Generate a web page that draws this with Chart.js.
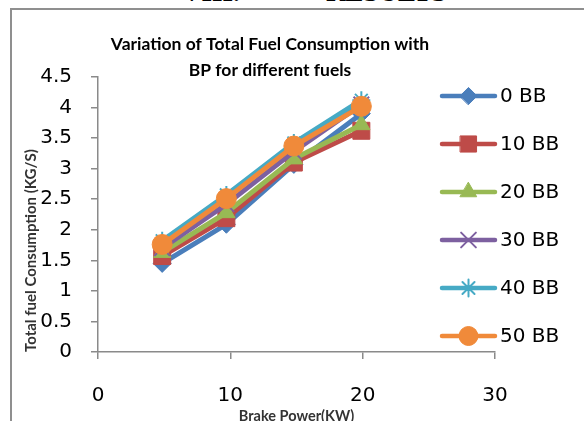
<!DOCTYPE html>
<html>
<head>
<meta charset="utf-8">
<script src="https://cdn.jsdelivr.net/npm/chart.js@4/dist/chart.umd.min.js"></script>
<style>
  html, body { margin: 0; padding: 0; background: #fff; overflow: hidden; }
  #wrap { position: relative; width: 584px; height: 421px; }
  #frame { position: absolute; left: 10px; top: 8px; width: 700px; height: 500px;
           border-left: 2px solid #8f8f8f; border-top: 2px solid #8f8f8f; box-sizing: border-box; }
  .hdr { position: absolute; top: -20.6px; font-family: 'Liberation Serif', serif; font-weight: bold;
         font-size: 27px; line-height: 27px; color: #000; white-space: nowrap; }
  canvas { position: absolute; left: 0; top: 0; }
</style>
</head>
<body>
<div id="wrap">
  <div class="hdr" style="left:182px">VIII.</div>
  <div class="hdr" style="left:326px">RESULTS</div>
  <div id="frame"></div>
  <canvas id="c" width="584" height="421"></canvas>
</div>
<script>
// ---- data ----
const brakePower = [4.85, 9.7, 14.8, 19.9];
const seriesNames = ['0 BB', '10 BB', '20 BB', '30 BB', '40 BB', '50 BB'];
const bb0  = [1.45, 2.09, 3.07, 3.90];
const bb10 = [1.57, 2.19, 3.10, 3.62];
const bb20 = [1.63, 2.28, 3.16, 3.72];
const bb30 = [1.70, 2.42, 3.28, 4.05];
const bb40 = [1.82, 2.57, 3.42, 4.12];
const bb50 = [1.76, 2.51, 3.37, 4.02];
const yTickLabels = ['0', '0.5', '1', '1.5', '2', '2.5', '3', '3.5', '4', '4.5'];
const xTickLabels = ['0', '10', '20', '30'];
const titleLines = ['Variation of Total Fuel Consumption with', 'BP for different fuels'];
const yTitle = 'Total fuel Consumption (KG/S)';
const xTitle = 'Brake Power(KW)';

// ---- styles ----
const seriesValues = [bb0, bb10, bb20, bb30, bb40, bb50];
const colors = ['#4A7EBB', '#BE4B48', '#98B954', '#7D60A0', '#46AAC5', '#F08A3A'];
const styles = ['rectRot', 'rect', 'triangle', 'crossRot', 'star', 'circle'];
const radii = [9, 12, 10, 11, 9, 10];

Chart.defaults.font.family = "'DejaVu Sans'";
Chart.defaults.color = '#000';

const datasets = seriesValues.map((vals, i) => ({
  label: seriesNames[i],
  data: vals.map((v, j) => ({ x: brakePower[j], y: v })),
  borderColor: colors[i],
  backgroundColor: colors[i],
  borderWidth: 5,
  pointStyle: styles[i],
  pointRadius: radii[i],
  pointHoverRadius: radii[i],
  pointBackgroundColor: colors[i],
  pointBorderColor: colors[i],
  pointBorderWidth: (styles[i] === 'crossRot' || styles[i] === 'star') ? 2 : 1,
  tension: 0,
  order: 5 - i
}));

function drawMarker(ctx, style, r, x, y, color, bw) {
  ctx.save();
  ctx.fillStyle = color; ctx.strokeStyle = color; ctx.lineWidth = bw;
  if (Chart.helpers && Chart.helpers.drawPoint) {
    Chart.helpers.drawPoint(ctx, { pointStyle: style, radius: r, borderWidth: bw, rotation: 0 }, x, y);
  } else {
    ctx.beginPath(); ctx.arc(x, y, r, 0, Math.PI * 2); ctx.fill();
  }
  ctx.restore();
}

const overlay = {
  id: 'overlay',
  afterDraw(chart) {
    const ctx = chart.ctx;
    ctx.save();
    // title
    ctx.fillStyle = '#000';
    ctx.font = "bold 17.5px Lato";
    ctx.textAlign = 'center';
    ctx.textBaseline = 'middle';
    ctx.fillText(titleLines[0], 270, 44);
    ctx.fillText(titleLines[1], 270, 70);
    // legend
    ctx.font = "20px 'DejaVu Sans'";
    ctx.textAlign = 'left';
    seriesNames.forEach((name, i) => {
      const y = 96 + i * 48;
      ctx.strokeStyle = colors[i];
      ctx.lineWidth = 4.5;
      ctx.lineCap = 'round';
      ctx.beginPath(); ctx.moveTo(442, y); ctx.lineTo(495, y); ctx.stroke();
      const bw = (styles[i] === 'crossRot' || styles[i] === 'star') ? 2 : 1;
      drawMarker(ctx, styles[i], radii[i] * 0.95, 468.5, y, colors[i], bw);
      ctx.fillStyle = '#000';
      ctx.textBaseline = 'middle';
      ctx.fillText(name, 500, y + 1);
    });
    ctx.restore();
  }
};

new Chart(document.getElementById('c'), {
  type: 'line',
  data: { datasets },
  options: {
    responsive: false,
    animation: false,
    layout: { padding: { left: 10, top: 77, right: 89, bottom: 0 } },
    plugins: { legend: { display: false }, title: { display: false }, tooltip: { enabled: false } },
    scales: {
      x: {
        type: 'linear', min: 0, max: 30,
        afterFit(s) { s.height = 69; },
        ticks: { stepSize: 10, padding: 25, font: { size: 20 }, color: '#000',
                 callback: (v, i) => xTickLabels[i] },
        grid: { display: true, drawOnChartArea: false, drawTicks: true, tickLength: 7, color: '#8a8a8a', lineWidth: 1.5 },
        border: { display: true, color: '#8a8a8a', width: 1.5 },
        title: { display: true, text: xTitle, font: { family: 'Lato', size: 14.5, weight: 'bold' }, color: '#333',
                 padding: { top: 0, bottom: -4 } }
      },
      y: {
        type: 'linear', min: 0, max: 4.5,
        afterFit(s) { s.width = 88; },
        ticks: { stepSize: 0.5, padding: 19, font: { size: 20 }, color: '#000',
                 callback: (v, i) => yTickLabels[i] },
        grid: { display: true, drawOnChartArea: false, drawTicks: true, tickLength: 7, color: '#8a8a8a', lineWidth: 1.5 },
        border: { display: true, color: '#8a8a8a', width: 1.5 },
        title: { display: true, text: yTitle, align: 'start', font: { family: 'Lato', size: 15, weight: 'bold' }, color: '#333',
                 padding: { top: 12, bottom: 0 } }
      }
    }
  },
  plugins: [overlay]
});
</script>
</body>
</html>
